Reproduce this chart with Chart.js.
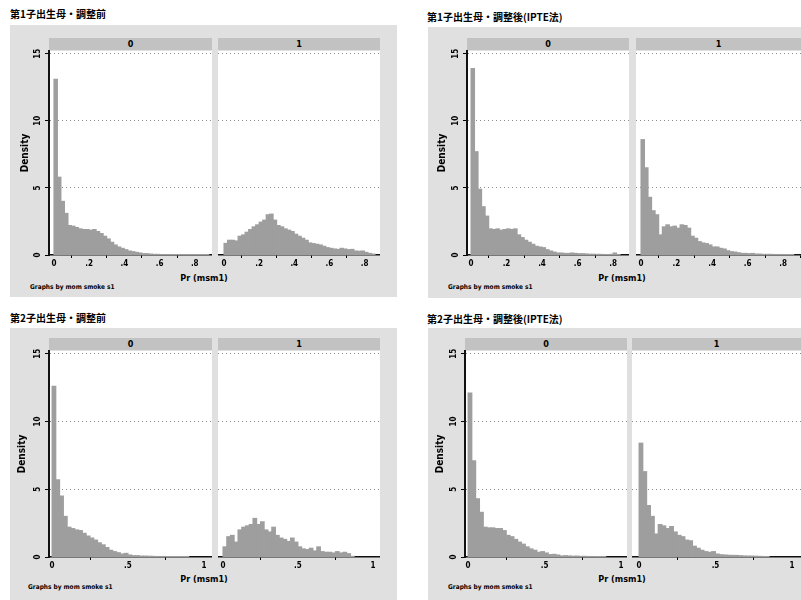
<!DOCTYPE html>
<html>
<head>
<meta charset="utf-8">
<script src="https://cdn.jsdelivr.net/npm/chart.js@4.4.1/dist/chart.umd.min.js"></script>
<style>
  body { margin: 0; background: #fff; }
  #wrap { position: relative; width: 801px; height: 600px; overflow: hidden;
          font-family: "DejaVu Sans Condensed", "DejaVu Sans", sans-serif; }
  .bg { position: absolute; background: #e0e0e0; }
  .strip { position: absolute; height: 12px; line-height: 12px; background: #c2c2c2;
           font-size: 9px; font-weight: bold; text-align: center; }
  .title { position: absolute; font-family: "Noto Sans CJK JP", sans-serif; font-weight: bold;
           font-size: 10px; line-height: 12px; white-space: nowrap; }
  .xlab { position: absolute; font-size: 9px; font-weight: bold; line-height: 10px;
          transform: translateX(-50%); white-space: nowrap; }
  .note { position: absolute; font-size: 6.5px; font-weight: bold; line-height: 8px; white-space: nowrap; }
  canvas { position: absolute; }
</style>
</head>
<body>
<div id="wrap"></div>
<script>
// 図のタイトル
const panelTitles = ["第1子出生母・調整前", "第1子出生母・調整後(IPTE法)",
                     "第2子出生母・調整前", "第2子出生母・調整後(IPTE法)"];
const groupLabels = ["0", "1"];           // mom smoke s1
const xTitle = "Pr (msm1)";
const yTitle = "Density";
const noteText = "Graphs by mom smoke s1";

// 目盛り
const yTicks = [0, 5, 10, 15];
const yTickLabels = ["0", "5", "10", "15"];
const topTicks = [0, 0.2, 0.4, 0.6, 0.8];
const topTickLabels = ["0", ".2", ".4", ".6", ".8"];
const bottomTicks = [0, 0.5, 1];
const bottomTickLabels = ["0", ".5", "1"];

// ビン幅
const binTop = 0.02;
const binBottom = 0.025;

// 第1子・調整前 (density per bin)
const p1Smoke0 = [13.1, 5.8, 4.0, 3.1, 2.2, 2.15, 2.05, 1.95, 1.9, 1.9, 1.85, 1.9, 1.75, 1.6, 1.4,
  1.2, 0.95, 0.75, 0.6, 0.5, 0.4, 0.3, 0.25, 0.2, 0.15, 0.1, 0.1, 0.07, 0.05, 0.05,
  0.04, 0.03, 0.03, 0.03, 0.02, 0.02, 0.02, 0.02, 0.02, 0.01, 0.02, 0.01, 0.01, 0.01];
const p1Smoke1 = [0.87, 1.1, 1.1, 1.05, 1.4, 1.5, 1.7, 1.9, 2.1, 2.25, 2.45, 2.6, 3.0, 3.05, 2.6,
  2.2, 2.1, 1.95, 1.85, 1.75, 1.55, 1.4, 1.25, 1.1, 0.9, 0.85, 0.8, 0.75, 0.65, 0.55,
  0.5, 0.45, 0.42, 0.5, 0.45, 0.4, 0.42, 0.3, 0.28, 0.3, 0.2, 0.12, 0.07];

// 第1子・調整後
const p2Smoke0 = [13.9, 7.7, 4.9, 3.6, 2.9, 1.95, 1.9, 1.95, 1.85, 1.9, 1.95, 1.9, 1.95, 1.5, 1.3,
  1.1, 0.95, 0.8, 0.65, 0.6, 0.55, 0.4, 0.3, 0.22, 0.15, 0.15, 0.12, 0.12, 0.15, 0.12,
  0.1, 0.1, 0.08, 0.06, 0.06, 0.05, 0.05, 0.04, 0.03, 0.05, 0.15, 0.02];
const p2Smoke1 = [8.6, 6.5, 4.3, 3.3, 3.0, 1.5, 2.1, 2.25, 2.1, 2.15, 2.0, 2.25, 2.2, 2.0, 1.4,
  1.25, 1.0, 0.9, 0.85, 0.75, 0.6, 0.6, 0.5, 0.45, 0.32, 0.25, 0.22, 0.17, 0.12, 0.12,
  0.1, 0.12, 0.07, 0.07, 0.05, 0.05, 0.05, 0.04, 0.04, 0.03, 0.03, 0.02, 0.02];

// 第2子・調整前
const p3Smoke0 = [12.6, 5.7, 4.5, 3.0, 2.2, 2.1, 2.0, 1.95, 1.75, 1.55, 1.4, 1.25, 1.05, 0.9, 0.7,
  0.5, 0.4, 0.32, 0.22, 0.27, 0.15, 0.1, 0.1, 0.07, 0.07, 0.06, 0.05, 0.04, 0.04, 0.04,
  0.03, 0.03, 0.03, 0.02, 0.02, 0.01];
const p3Smoke1 = [0.75, 1.5, 1.6, 1.1, 2.0, 2.2, 2.3, 2.4, 2.85, 2.4, 2.6, 2.0, 1.85, 2.2, 1.6,
  1.4, 1.3, 1.15, 1.4, 1.1, 0.75, 0.6, 0.55, 0.65, 0.45, 0.75, 0.4, 0.35, 0.35, 0.3,
  0.4, 0.3, 0.35, 0.25, 0.05];

// 第2子・調整後
const p4Smoke0 = [12.1, 7.1, 4.3, 3.3, 2.2, 2.15, 2.15, 2.1, 2.1, 1.95, 1.6, 1.5, 1.3, 1.1, 0.95,
  0.75, 0.6, 0.5, 0.35, 0.4, 0.3, 0.18, 0.2, 0.15, 0.08, 0.1, 0.08, 0.06, 0.07, 0.05,
  0.05, 0.04, 0.04, 0.03, 0.03, 0.02];
const p4Smoke1 = [8.4, 6.3, 3.8, 3.0, 1.7, 2.4, 2.3, 2.1, 2.25, 1.85, 1.6, 1.5, 1.25, 1.2, 0.8,
  0.65, 0.5, 0.4, 0.35, 0.4, 0.22, 0.17, 0.15, 0.13, 0.12, 0.12, 0.1, 0.08, 0.07, 0.07,
  0.06, 0.05, 0.04, 0.03];

// レイアウト
const panels = [
  { title: panelTitles[0], tl: [10, 8], bg: [10, 25, 387, 272], top: 51, bottom: 255,
    bin: binTop, ticks: topTicks, tickLabels: topTickLabels, xlab: [204, 273], note: [30, 283],
    data: [p1Smoke0, p1Smoke1],
    plots: [{ l: 49, r: 212, min: -0.028, max: 0.898, yw: 34 }, { l: 218, r: 380, min: -0.034, max: 0.888 }] },
  { title: panelTitles[1], tl: [427, 11], bg: [428, 27, 373, 271], top: 51, bottom: 255,
    bin: binTop, ticks: topTicks, tickLabels: topTickLabels, xlab: [622, 273], note: [448, 283],
    data: [p2Smoke0, p2Smoke1],
    plots: [{ l: 467, r: 629, min: -0.0225, max: 0.89, yw: 35 }, { l: 636, r: 801, min: -0.028, max: 0.901 }] },
  { title: panelTitles[2], tl: [10, 312], bg: [10, 328, 387, 272], top: 351, bottom: 557,
    bin: binBottom, ticks: bottomTicks, tickLabels: bottomTickLabels, xlab: [204, 574], note: [28, 583],
    data: [p3Smoke0, p3Smoke1],
    plots: [{ l: 49, r: 212, min: -0.02, max: 1.053, yw: 37 }, { l: 218, r: 380, min: -0.033, max: 1.047 }] },
  { title: panelTitles[3], tl: [427, 313], bg: [428, 328, 373, 272], top: 351, bottom: 557,
    bin: binBottom, ticks: bottomTicks, tickLabels: bottomTickLabels, xlab: [622, 574], note: [448, 583],
    data: [p4Smoke0, p4Smoke1],
    plots: [{ l: 465, r: 627, min: -0.02, max: 1.039, yw: 35 }, { l: 632, r: 801, min: -0.046, max: 1.059 }] }
];

const wrap = document.getElementById("wrap");
const FONT = "'DejaVu Sans Condensed', 'DejaVu Sans', sans-serif";

function addDiv(cls, x, y, text, w, h) {
  const d = document.createElement("div");
  d.className = cls;
  d.style.left = x + "px";
  d.style.top = y + "px";
  if (w !== undefined) d.style.width = w + "px";
  if (h !== undefined) d.style.height = h + "px";
  if (text) d.textContent = text;
  wrap.appendChild(d);
  return d;
}

function makeChart(panel, plot, idx) {
  const yw = plot.yw || 0;
  const padTop = 8, xh = 16;
  const c = document.createElement("canvas");
  c.width = plot.r - plot.l + yw;
  c.height = panel.bottom - panel.top + padTop + xh;
  c.style.left = (plot.l - yw) + "px";
  c.style.top = (panel.top - padTop) + "px";
  wrap.appendChild(c);

  const values = panel.data[idx];
  const points = values.map((v, i) => ({ x: (i + 0.5) * panel.bin, y: v }));

  new Chart(c, {
    type: "bar",
    data: {
      datasets: [{
        data: points,
        backgroundColor: "#9e9e9e",
        borderWidth: 0,
        inflateAmount: 0.5,
        barPercentage: 1,
        categoryPercentage: 1
      }]
    },
    options: {
      responsive: false,
      animation: false,
      devicePixelRatio: 1,
      layout: { padding: { top: padTop } },
      plugins: { legend: { display: false }, tooltip: { enabled: false } },
      scales: {
        x: {
          type: "linear", min: plot.min, max: plot.max, offset: false,
          afterBuildTicks: s => { s.ticks = panel.ticks.map(v => ({ value: v })); },
          afterFit: s => { s.height = xh; s.paddingLeft = 0; s.paddingRight = 0; },
          grid: { drawOnChartArea: false, drawTicks: true, tickLength: 3, tickColor: "#000", tickWidth: 1 },
          border: { display: true, color: "#111", width: 1.5 },
          ticks: {
            autoSkip: false, maxRotation: 0, padding: 1, color: "#000",
            font: { family: FONT, size: 8, weight: "bold" },
            callback: v => panel.tickLabels[panel.ticks.indexOf(v)]
          }
        },
        y: {
          min: 0, max: 15.2,
          afterBuildTicks: s => { s.ticks = yTicks.map(v => ({ value: v })); },
          afterFit: s => { s.width = yw; s.paddingTop = 0; s.paddingBottom = 0; },
          grid: {
            color: ctx => (ctx.tick && ctx.tick.value === 0) ? "rgba(0,0,0,0)" : "#8c8c8c",
            lineWidth: 1, drawTicks: yw > 0, tickLength: 4, tickColor: "#000", tickWidth: 1
          },
          border: { display: yw > 0, color: "#111", width: 2, dash: [1, 3] },
          ticks: {
            display: yw > 0, minRotation: 90, maxRotation: 90, crossAlign: "center", padding: 2,
            color: "#000", font: { family: FONT, size: 8, weight: "bold" },
            callback: v => yTickLabels[yTicks.indexOf(v)]
          },
          title: {
            display: yw > 0, text: yTitle, color: "#000", padding: { top: 4, bottom: 4 },
            font: { family: FONT, size: 10, weight: "bold" }
          }
        }
      }
    }
  });
}

panels.forEach(p => {
  addDiv("bg", p.bg[0], p.bg[1], "", p.bg[2], p.bg[3]);
  addDiv("title", p.tl[0], p.tl[1], p.title);
  p.plots.forEach((pl, i) => {
    addDiv("strip", pl.l, p.top - 13, groupLabels[i], pl.r - pl.l);
    const w = addDiv("bg", pl.l, p.top, "", pl.r - pl.l, p.bottom - p.top);
    w.style.background = "#fff";
  });
  p.plots.forEach((pl, i) => makeChart(p, pl, i));
  addDiv("xlab", p.xlab[0], p.xlab[1], xTitle);
  addDiv("note", p.note[0], p.note[1], noteText);
});
</script>
</body>
</html>
